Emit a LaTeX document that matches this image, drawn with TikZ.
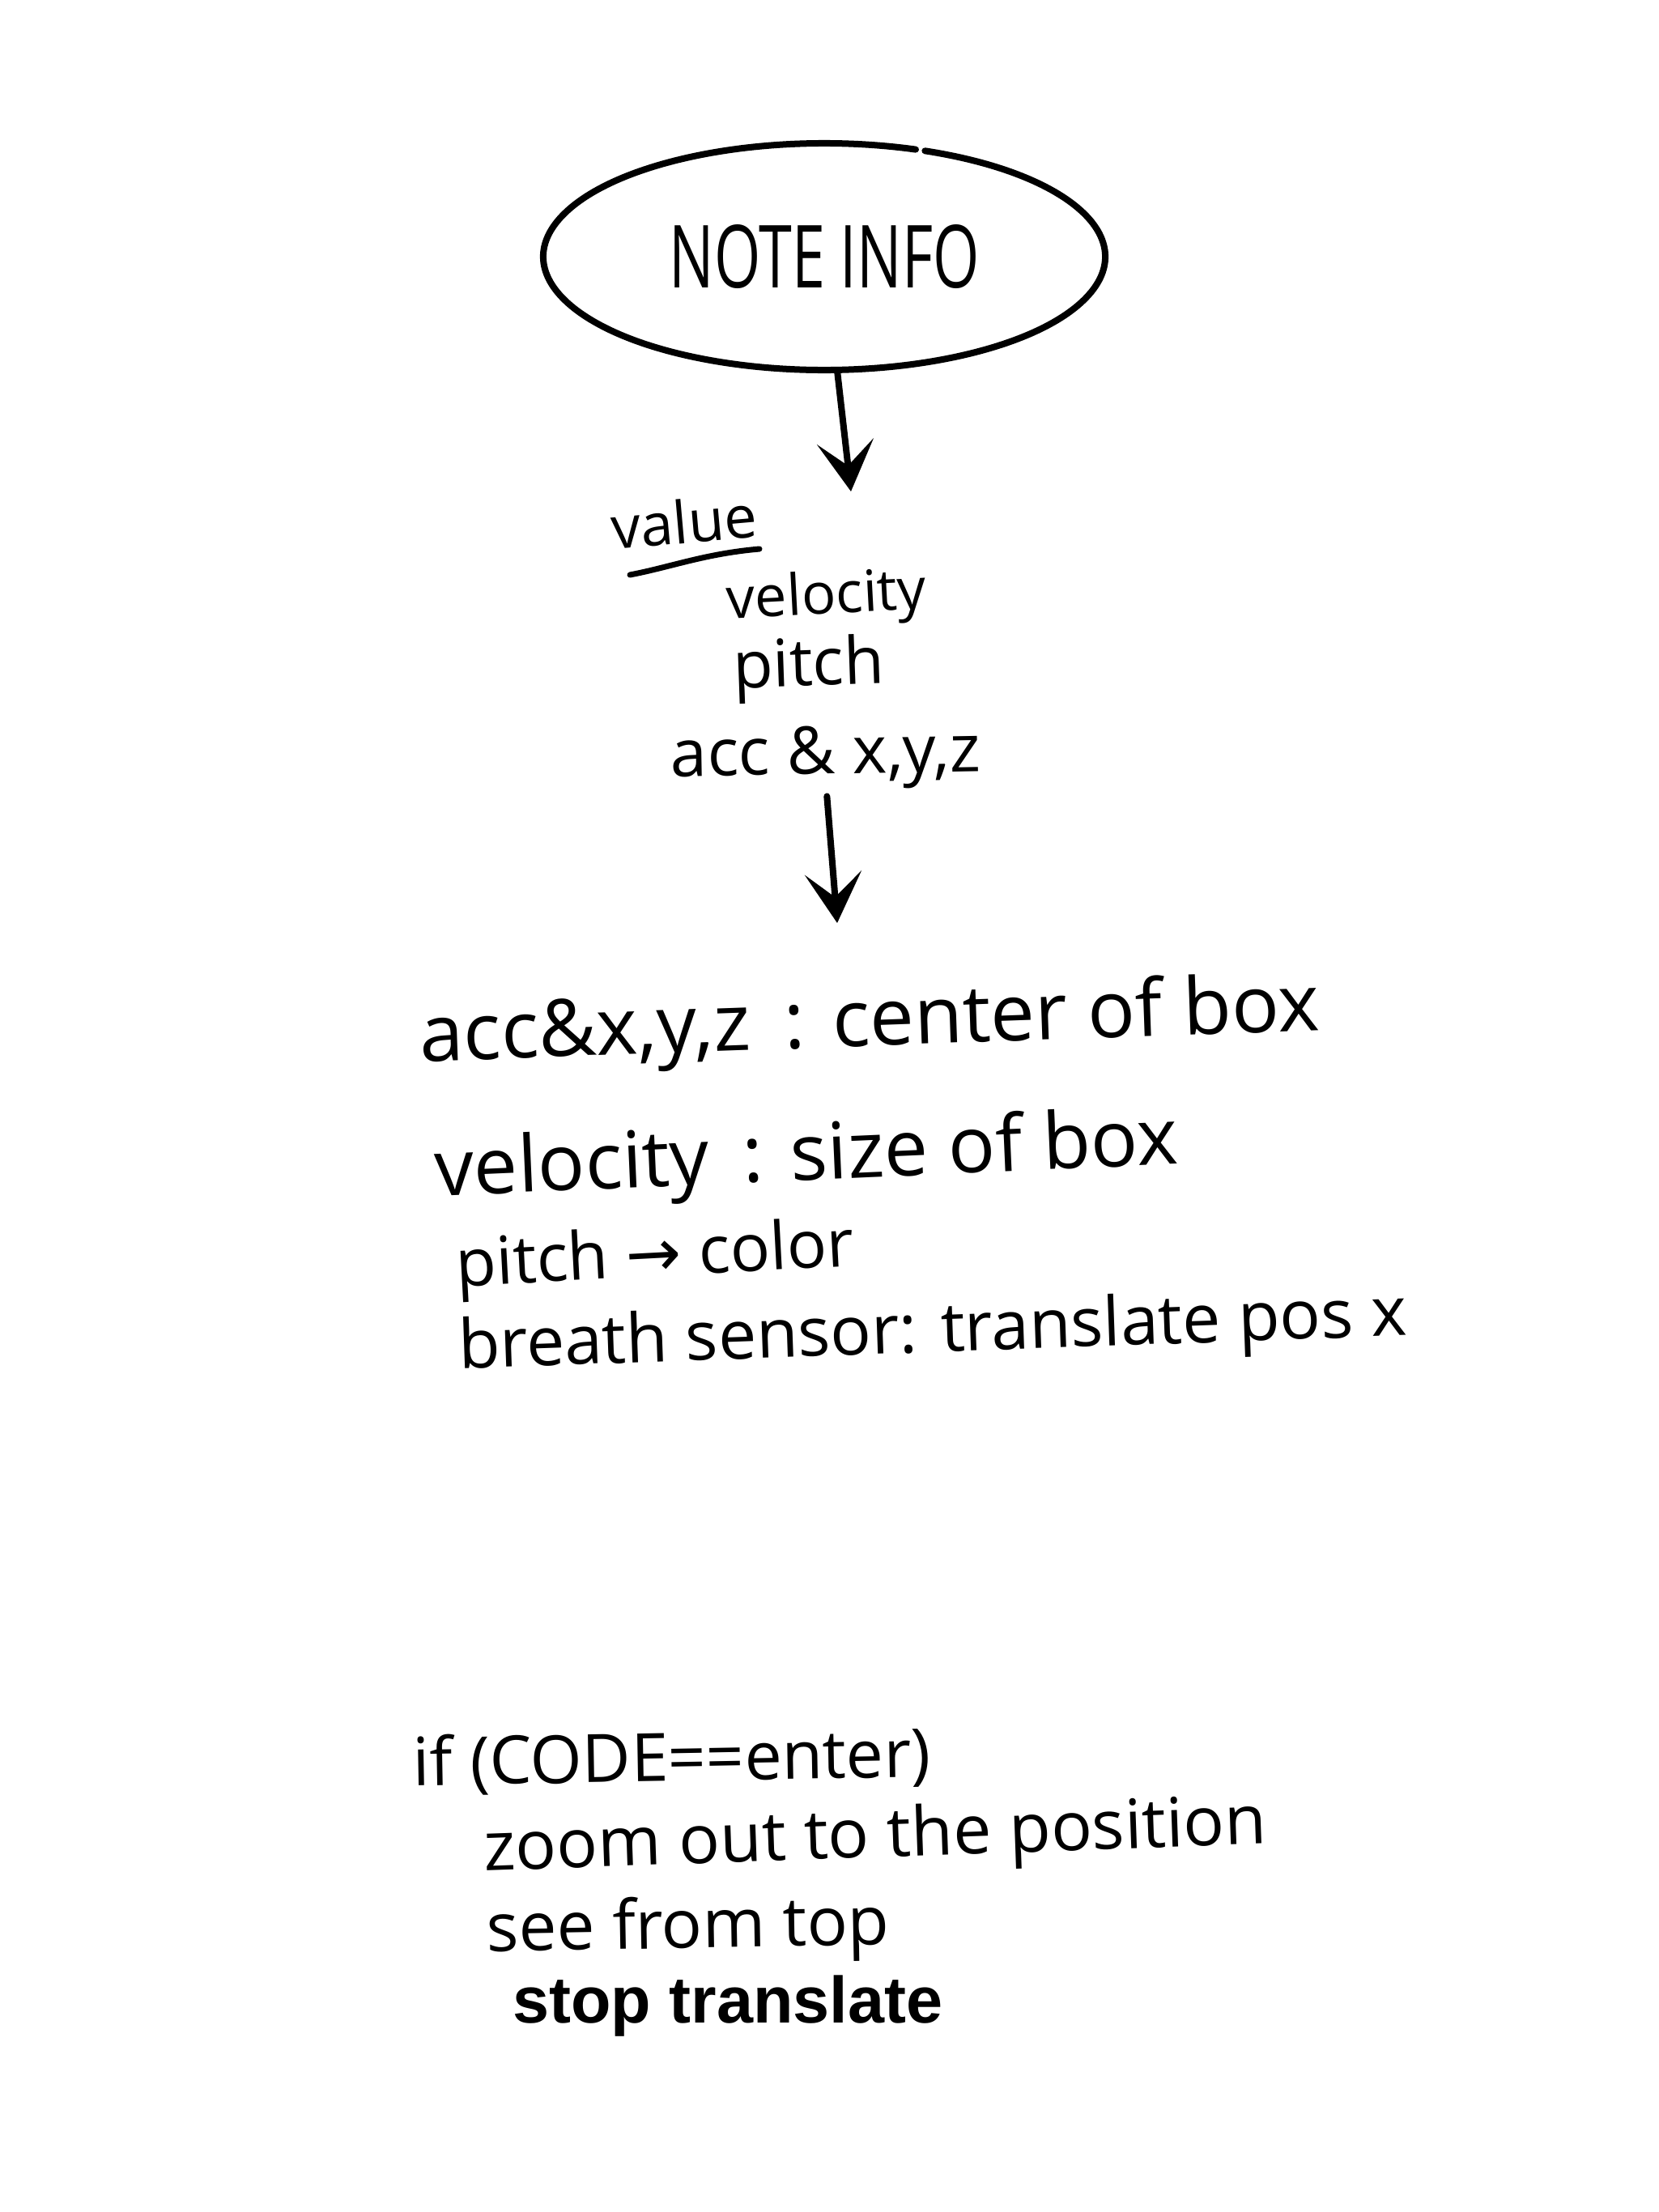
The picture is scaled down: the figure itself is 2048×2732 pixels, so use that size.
\documentclass[tikz,border=0pt]{standalone}
\usepackage{fontspec}
\usepackage{graphicx}
\setmainfont{Open Sans}
\newfontfamily\stopfont{Liberation Sans}
\newfontfamily\arrowfont{DejaVu Sans}
\usetikzlibrary{arrows.meta,shapes.geometric}
\newcommand{\hwtext}[2]{\resizebox{#1pt}{!}{#2}}
\begin{document}
\begin{tikzpicture}[x=1pt,y=-1pt,
  hw/.style={inner sep=0pt, font=\fontsize{60}{70}\selectfont},
  pen/.style={line width=8pt, line cap=round, line join=round},
  harrow/.style={pen, -{Stealth[length=62pt,width=70pt,inset=30pt]}}]
\useasboundingbox (0,0) rectangle (2048,2732);
\fill[white] (0,0) rectangle (2048,2732);
% ellipse
\node[ellipse, inner sep=0pt, minimum width=694pt, minimum height=280pt] (note) at (1018,317)
  {\fontsize{90}{100}\selectfont\resizebox{383pt}{78pt}{NOTE INFO}};
\draw[pen] (note.center) ++(-69:347 and 140) arc[start angle=-69, end angle=289, x radius=347, y radius=140];
% first arrow
\coordinate (a1e) at (1051,607);
\draw[harrow] (note) -- (a1e);
% value list
\node[hw, rotate=5] (value) at (845,644) {\hwtext{180}{value}};
\coordinate (u1) at (778,710);
\coordinate (u2) at (938,678);
\draw[line width=7pt, line cap=round] (u1) .. controls (830,700) and (870,684) .. (u2);
\node[hw, rotate=3] (vel1) at (1021,740) {\hwtext{247}{velocity}};
\node[hw, rotate=2] (pitch1) at (999,826) {\hwtext{187}{pitch}};
\node[hw, rotate=1] (acc1) at (1020,936) {\hwtext{383}{acc \& x,y,z}};
% second arrow
\coordinate (a2e) at (1034,1140);
\draw[harrow, shorten <=8pt] (acc1.south) -- (a2e);
% mapping block
\node[hw, rotate=2] (l1) at (1074,1266) {\hwtext{1112}{acc\&x,y,z\, : center of box}};
\node[hw, rotate=2.5] (l2) at (996,1432) {\hwtext{918}{velocity\, : size of box}};
\node[hw, rotate=3] (l3) at (809,1555) {\hwtext{492}{pitch {\arrowfont →} color}};
\node[hw, rotate=2] (l4) at (1152,1648) {\hwtext{1172}{breath sensor: translate pos x}};
% code block
\node[hw, rotate=1] (c1) at (830,2175) {\hwtext{639}{if (CODE==enter)}};
\node[hw, rotate=2] (c2) at (1081,2272) {\hwtext{967}{zoom out to the position}};
\node[hw, rotate=1] (c3) at (850,2384) {\hwtext{497}{see from top}};
\node[inner sep=0pt, anchor=west, font=\stopfont\bfseries\fontsize{81}{90}\selectfont] (c4) at (633,2478) {stop translate};
\end{tikzpicture}
\end{document}
